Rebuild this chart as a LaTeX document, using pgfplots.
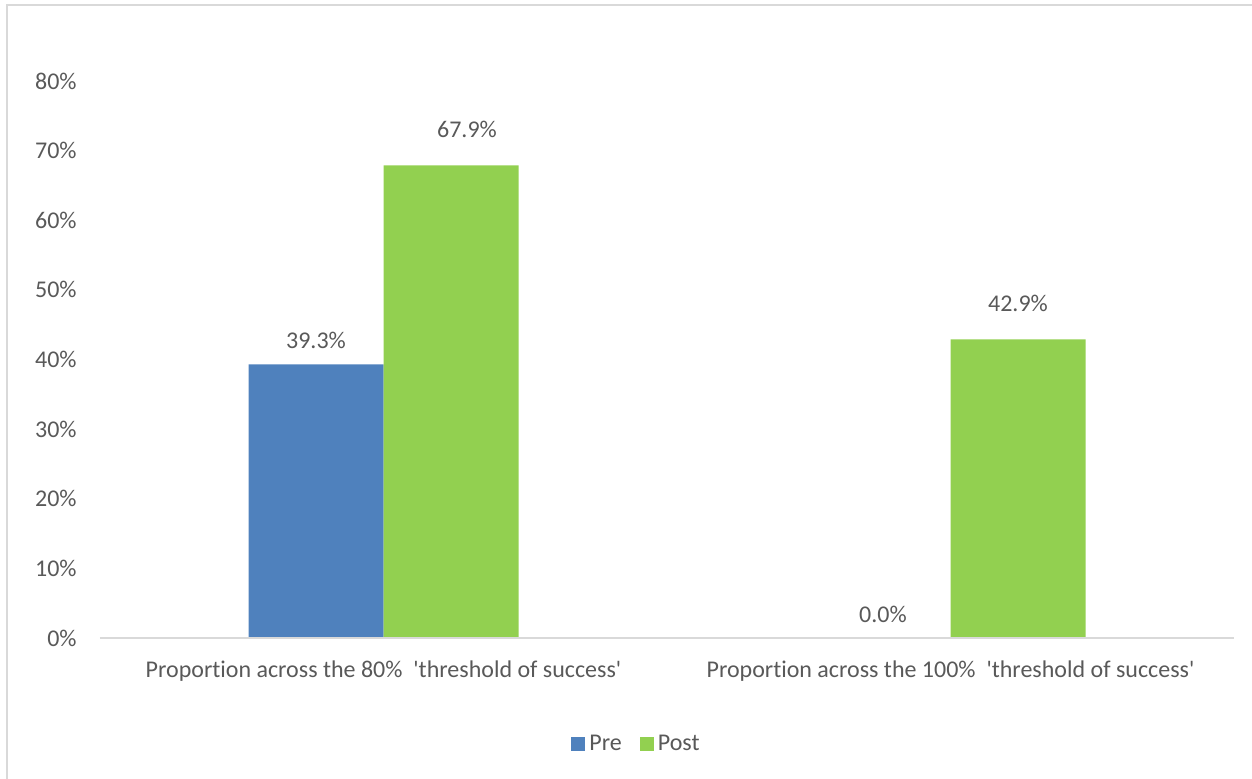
\documentclass[border=0pt]{standalone}
\usepackage{pgfplots}
\pgfplotsset{compat=1.18}
\usepackage{fontspec}
\setmainfont{Carlito}[Ligatures={NoCommon}]
\definecolor{preblue}{HTML}{4F81BD}
\definecolor{postgreen}{HTML}{92D050}
\definecolor{txt}{HTML}{595959}
\definecolor{framec}{HTML}{D9D9D9}
\begin{document}
\begin{tikzpicture}[x=1pt,y=1pt]
\useasboundingbox (0,0) rectangle (626,389);
\draw[framec, line width=1pt] (3.5,-20) -- (3.5,386.5) -- (650,386.5);
\begin{axis}[
  at={(50pt,70pt)}, anchor=south west,
  scale only axis, width=567pt, height=278.5pt,
  xmin=-0.5, xmax=1.5, ymin=0, ymax=80,
  ybar=0pt, bar width=67.5pt,
  axis line style={draw=none},
  xtick={0,1},
  xticklabels={Proportion across the 80\%\ \ \textquotesingle threshold of success\textquotesingle, Proportion across the 100\%\ \ \textquotesingle threshold of success\textquotesingle},
  ytick={0,10,...,80},
  yticklabels={0\%,10\%,20\%,30\%,40\%,50\%,60\%,70\%,80\%},
  major tick length=0pt, tick style={draw=none},
  ticklabel style={font=\fontsize{12}{14}\selectfont, text=txt},
  yticklabel style={inner sep=0pt, xshift=-11.5pt},
  xticklabel style={anchor=base, inner sep=0pt, yshift=-19.5pt},
  legend style={at={(0.474,-0.19)}, anchor=center, draw=none, legend columns=2,
    font=\fontsize{12}{14}\selectfont, text=txt,
    /tikz/every even column/.append style={column sep=7pt}},
  legend image code/.code={\fill[#1] (0pt,-3.5pt) rectangle (7pt,3.5pt);},
  clip=false,
]
\addplot[fill=preblue, draw=none,
  nodes near coords={\pgfmathprintnumber[fixed,fixed zerofill,precision=1,assume math mode=true]{\pgfplotspointmeta}\%},
  every node near coord/.append style={anchor=center, yshift=12pt, font=\fontsize{12}{14}\selectfont, text=txt}]
  coordinates {(0,39.3) (1,0.0)};
\addplot[fill=postgreen, draw=none,
  visualization depends on={rawx \as \rx},
  nodes near coords={\pgfmathprintnumber[fixed,fixed zerofill,precision=1,assume math mode=true]{\pgfplotspointmeta}\%},
  every node near coord/.append style={anchor=center, yshift=18pt, xshift={(\rx<0.5)*8pt}, font=\fontsize{12}{14}\selectfont, text=txt}]
  coordinates {(0,67.9) (1,42.9)};
\legend{Pre,Post}
\draw[framec, line width=0.75pt] (axis cs:-0.5,0) -- (axis cs:1.5,0);
\end{axis}
\end{tikzpicture}
\end{document}
